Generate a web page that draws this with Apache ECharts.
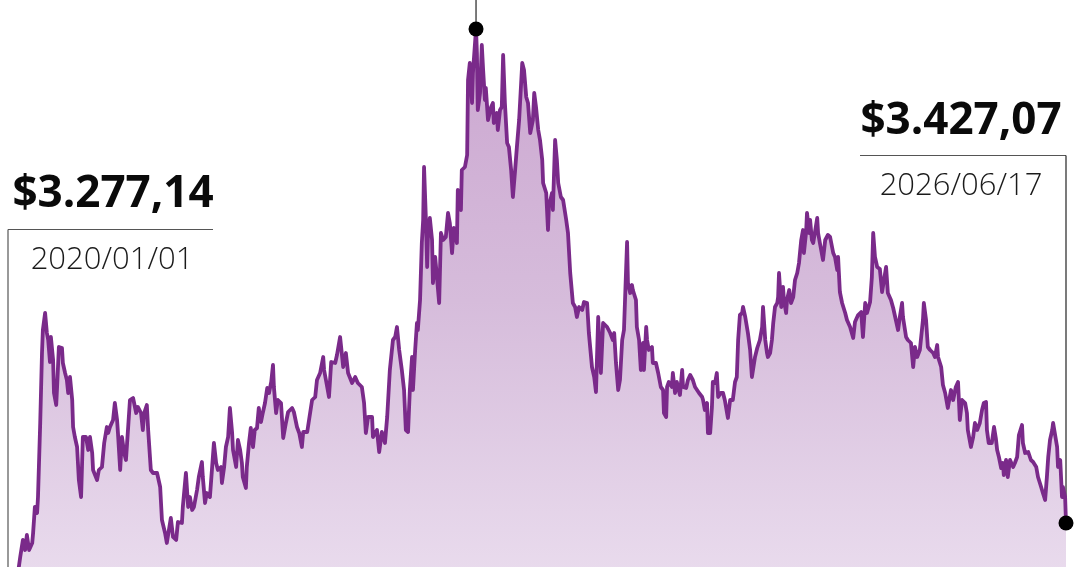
<!DOCTYPE html>
<html>
<head>
<meta charset="utf-8">
<script src="https://cdn.jsdelivr.net/npm/echarts@6/dist/echarts.min.js"></script>
<style>
html,body{margin:0;padding:0;background:#ffffff;}
#c{width:1080px;height:567px;}
</style>
</head>
<body>
<div id="c"></div>
<script>
// ---- data ----
const startDate = [2020, 0, 1];   // 2020/01/01
const endDate = [2026, 5, 17];    // 2026/06/17
// days since 2020/01/01
const dayOffsets = [
0,5,11,16,20,25,32,34,38,43,45,50,54,56,61,65,68,72,74,79,81,86,88,92,99,101,106,110,113,117,122,124,128,133,137,142,144,146,153,158,162,167,169,178,182,189,194,200,203,207,214,218,223,225,230,234,239,243,248,252,259,266,270,277,281,284,290,293,
299,304,313,320,324,331,335,344,349,356,360,369,371,378,383,387,392,396,403,407,414,416,421,425,432,437,441,446,450,457,459,464,468,473,477,482,484,491,495,500,504,506,513,515,520,524,529,533,538,542,547,551,556,561,565,570,574,576,581,585,592,597,603,608,617,621,628,633,639,642,651,655,662,669,673,680,687,689,696,700,705,714,718,725,
732,738,743,752,759,765,774,779,783,788,797,799,808,813,819,826,831,837,844,849,853,858,864,869,873,878,882,887,889,894,898,900,905,909,912,914,918,921,923,927,932,934,939,943,948,952,957,963,968,972,977,981,988,990,997,999,1006,1011,1013,1017,1022,1024,1031,
1033,1035,1040,1044,1047,1051,1053,1058,1065,1069,1071,1078,1080,1085,1089,1092,1096,1101,1105,1110,1114,1119,1123,1128,1135,1139,1144,1148,1153,1159,1162,1166,1171,1175,1180,1182,1189,1193,1195,1202,1204,1209,1213,1216,1222,1227,1234,1238,1243,1249,1254,1258,1263,1270,1274,1281,1285,1292,1297,1301,1306,1308,1312,1317,1321,1326,1333,1339,1342,1346,1351,1355,1360,1364,1369,1371,1373,1378,1382,1384,1391,1393,1398,1402,1407,1409,1414,1416,1420,1427,1429,1436,1441,1447,1452,1454,1459,1461,1465,1472,1474,1479,1483,1490,1495,1497,1504,1508,1513,1519,1524,1528,1533,1540,1542,1546,1551,1553,1558,1562,1564,1569,1573,1576,1582,1587,1591,1596,1598,1603,1609,1614,1618,
1621,1625,1630,1632,1637,1641,1643,1648,1652,1654,1659,1664,1666,1670,1675,1677,1682,1686,1688,1693,1697,1700,1704,1709,1711,1713,1718,1722,1724,1729,1731,1736,1740,1745,1749,1754,1758,1763,1767,1769,1774,1776,1781,1783,1787,1790,1794,1799,1801,1805,1812,1817,1823,1828,1835,1839,1844,1846,1850,1855,1862,1866,1873,1880,1884,1891,1898,1902,1907,1911,1918,1922,1925,1929,1934,1940,1945,1947,1954,1958,1965,1970,1976,1981,1985,1990,1992,1999,2003,2010,2015,2019,2024,2030,2037,2039,2044,2048,2053,2060,2064,2069,2071,2078,2082,2087,2093,2100,2105,2111,2116,2120,2125,2132,2136,2138,2145,2150,2154,2159,2165,2170,2174,2179,2181,2185,2192,2197,2201,2204,2208,2213,2217,2219,2224,2228,2233,2240,2244,2249,2253,2260,2262,2267,2274,2280,2285,2292,2296,2303,2307,2312,2316,2319,2323,2328,2330,2334,2339,2341,2346,2350,2352,2357,2359
];
const prices = [
3277.14,3325,3376,3346,3391,3346,3367,3397,3475,3457,3505,3727,3937,4006,4057,3997,3976,3910,3985,3916,3817,3781,3835,3955,3952,3907,3877,3856,3817,3865,3796,3715,3685,3655,3556,3505,3595,3685,3685,3646,3685,3637,3586,3556,3586,3595,3667,3715,3697,3715,3736,3787,3736,3697,3586,3685,3637,3616,3715,3796,3802,3757,3775,3757,3706,3757,3781,3706,
3586,3577,3577,3535,3436,3397,3367,3442,3385,3376,3430,3427,3475,3577,3475,3505,3466,3475,3526,3565,3610,3565,3487,3517,3505,3595,3667,3607,3586,3595,3547,3595,3655,3685,3772,3697,3646,3595,3676,3646,3607,3565,3532,3595,3667,3712,3655,3706,3712,3772,3730,3757,3787,3832,3817,3850,3901,3835,3757,3796,3787,3682,3727,3760,3772,3760,3715,3697,3655,3700,3700,3706,3796,3805,3856,3877,3925,3886,3835,3805,3910,3907,3931,3985,
3895,3937,3877,3847,3865,3847,3835,3787,3697,3745,3745,3685,3706,3640,3700,3667,3745,3886,3976,3985,4015,3946,3886,3826,3706,3700,3826,3925,3826,3946,4027,4006,4096,4267,4336,4495,4345,4195,4297,4342,4276,4147,4225,4165,4087,4297,4276,4285,4357,4327,4237,4312,4267,4426,4366,4486,4495,4531,4756,4807,4687,4777,4909,
4837,4666,4717,4861,4786,4696,4732,4636,4675,4687,4627,4657,4606,4666,4675,4831,4687,4567,4555,4486,4405,4486,4555,4636,4807,4786,4705,4687,4597,4636,4717,4675,4606,4576,4516,4447,4417,4306,4375,4417,4366,4576,4516,4447,4405,4396,4336,4297,4177,4087,4075,4045,4075,4066,4090,4087,3997,3895,3865,3820,4045,3985,3877,4027,4021,4015,3997,3976,3997,3907,3826,3856,3976,4006,4195,4270,4147,4117,4141,4126,4096,4015,3976,3886,3967,3886,4015,3976,3946,3955,3907,3907,3877,3835,3826,3757,3745,3835,3850,3835,3877,3817,3850,3811,3886,3835,3832,3856,3871,3856,3835,3832,3817,3805,3796,3766,3787,3697,3697,3775,3850,3847,3877,3805,3817,3817,3796,3757,3742,3796,3796,3850,3865,
3976,4051,4057,4075,4045,4045,3997,3946,3865,3865,3925,3952,3955,3976,4015,4075,3976,3937,3925,3937,3976,4027,4075,4087,4105,4177,4075,4135,4096,4057,4096,4126,4087,4105,4156,4177,4207,4276,4306,4237,4300,4357,4297,4336,4276,4267,4300,4342,4297,4267,4216,4276,4291,4285,4237,4225,4186,4225,4120,4087,4057,4036,4015,3982,4030,4051,4060,3985,4087,4057,4090,4165,4297,4225,4195,4189,4120,4117,4195,4117,4096,4072,4036,4006,4045,4087,4045,3985,3976,3967,3895,3955,3925,3946,4036,4087,4036,3955,3946,3937,3925,3961,3925,3895,3841,3817,3772,3826,3796,3835,3850,3736,3796,3787,3757,3706,3655,3685,3727,3706,3727,3766,3787,3790,3706,3667,3667,3715,3682,3646,3625,3592,3607,3571,3616,3565,3616,3595,3607,3625,3691,3721,3667,3637,3640,3616,3610,3595,3565,3535,3517,3496,3565,3625,3676,3706,3727,3721,3655,3595,3616,3505,3535,3505,3427.07
];
const startLabel = { price: '$3.277,14', date: '2020/01/01' };
const endLabel = { price: '$3.427,07', date: '2026/06/17' };
const peakDay = 1031;
const peakPrice = 4909;
const yMin = 3295, yMax = 4996;

// ---- chart ----
const DAY = 86400000;
const t0 = Date.UTC(startDate[0], startDate[1], startDate[2]);
const t1 = Date.UTC(endDate[0], endDate[1], endDate[2]);
const lineData = dayOffsets.map((d, i) => [t0 + d * DAY, prices[i]]);
const endPt = [t0 + dayOffsets[dayOffsets.length - 1] * DAY, prices[prices.length - 1]];
const peakPt = [t0 + peakDay * DAY, peakPrice];

const chart = echarts.init(document.getElementById('c'), null, { renderer: 'canvas' });
chart.setOption({
  animation: false,
  backgroundColor: '#ffffff',
  grid: { left: 18, right: 14, top: 0, bottom: 0, containLabel: false },
  xAxis: { type: 'time', min: t0, max: t1, show: false },
  yAxis: { type: 'value', min: yMin, max: yMax, show: false, splitLine: { show: false } },
  series: [
    {
      type: 'line',
      data: lineData,
      symbol: 'none',
      clip: true,
      lineStyle: { color: '#7a2a8a', width: 3.8, join: 'round' },
      areaStyle: {
        opacity: 1,
        color: new echarts.graphic.LinearGradient(0, 0, 0, 1, [
          { offset: 0, color: '#cba6d0' },
          { offset: 0.5, color: '#d6bcdb' },
          { offset: 1, color: '#e9dbed' }
        ])
      },
      z: 2
    },
    {
      type: 'scatter',
      data: [peakPt, endPt],
      symbol: 'circle',
      symbolSize: 15,
      itemStyle: { color: '#000000', opacity: 1 },
      z: 5,
      silent: true
    }
  ]
});

const pk = chart.convertToPixel({ seriesIndex: 0 }, peakPt);
const ep = chart.convertToPixel({ seriesIndex: 0 }, endPt);
const sp = chart.convertToPixel({ seriesIndex: 0 }, lineData[0]);
const stroke = '#555555';
const priceFont = 'bold 44px "Open Sans", "Noto Sans", sans-serif';
const dateFont = '300 31px "Open Sans", "Noto Sans", sans-serif';

chart.setOption({
  graphic: [
    { type: 'line', z: 1, shape: { x1: pk[0], y1: 0, x2: pk[0], y2: pk[1] }, style: { stroke: '#222', lineWidth: 1.2 } },
    { type: 'line', z: 1, shape: { x1: ep[0] - 206, y1: 155.5, x2: ep[0], y2: 155.5 }, style: { stroke: stroke, lineWidth: 1.2 } },
    { type: 'line', z: 1, shape: { x1: ep[0], y1: 155.5, x2: ep[0], y2: ep[1] }, style: { stroke: '#222', lineWidth: 1.2 } },
    { type: 'line', z: 1, shape: { x1: sp[0] - 10, y1: 229.5, x2: sp[0] + 195, y2: 229.5 }, style: { stroke: stroke, lineWidth: 1.2 } },
    { type: 'line', z: 1, shape: { x1: sp[0] - 10, y1: 229.5, x2: sp[0] - 10, y2: 567 }, style: { stroke: stroke, lineWidth: 1.2 } },
    { type: 'text', z: 10, x: 113, y: 194, style: { text: startLabel.price, font: priceFont, fill: '#0a0a0a', align: 'center', verticalAlign: 'middle', textAlign: 'center', textVerticalAlign: 'middle' } },
    { type: 'text', z: 10, x: 112, y: 260, style: { text: startLabel.date, font: dateFont, fill: '#1a1a1a', align: 'center', verticalAlign: 'middle', textAlign: 'center', textVerticalAlign: 'middle' } },
    { type: 'text', z: 10, x: 961, y: 121, style: { text: endLabel.price, font: priceFont, fill: '#0a0a0a', align: 'center', verticalAlign: 'middle', textAlign: 'center', textVerticalAlign: 'middle' } },
    { type: 'text', z: 10, x: 961, y: 186, style: { text: endLabel.date, font: dateFont, fill: '#1a1a1a', align: 'center', verticalAlign: 'middle', textAlign: 'center', textVerticalAlign: 'middle' } }
  ]
});
</script>
</body>
</html>
